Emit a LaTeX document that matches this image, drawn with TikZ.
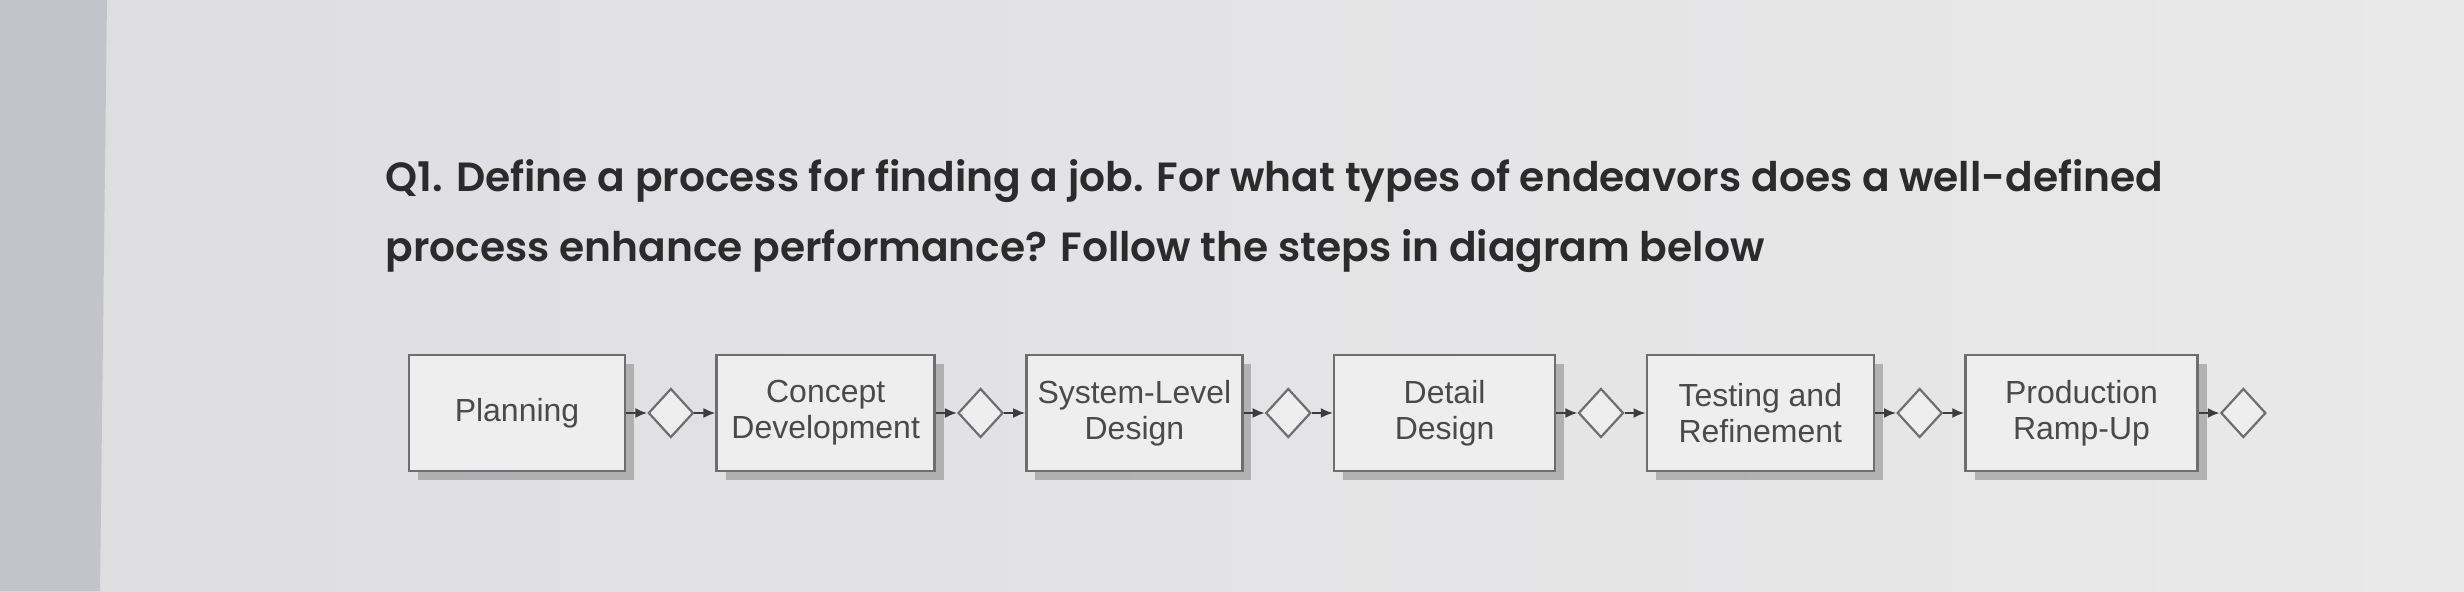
\documentclass[tikz,border=0pt]{standalone}
\usepackage{fontspec}
\setmainfont{Liberation Sans}
\newfontfamily\qfont{Poppins SemiBold}
\usetikzlibrary{positioning,shapes.geometric,arrows.meta,shadows}

\definecolor{bezel}{HTML}{C3C4C9}
\definecolor{screenleft}{HTML}{DEDDE1}
\definecolor{screenright}{HTML}{E9E9E9}
\definecolor{qtext}{HTML}{2B2B2B}
\definecolor{stagefill}{HTML}{EEEEEF}
\definecolor{stageline}{HTML}{6E6E6E}
\definecolor{stagetext}{HTML}{4A4A4A}
\definecolor{shadowgray}{HTML}{9C9C9C}
\definecolor{flowline}{HTML}{3C3C3C}
\tikzset{
	stage/.style = {rectangle, draw=stageline, line width=0.25mm, fill=stagefill,
	 text=stagetext, minimum height=11.6mm, inner sep=0, align=center,
	 font=\fontsize{9.1pt}{10.3pt}\selectfont,
	 drop shadow={shadow xshift=0.9mm, shadow yshift=-0.9mm, fill=shadowgray, opacity=0.7}}}
\tikzset{
	gate/.style = {diamond, draw=stageline, line width=0.22mm, fill=stagefill,
	 inner sep=0, minimum width=4.5mm, minimum height=4.9mm}}
\tikzset{
	flow/.style = {-{Latex[length=1.2mm,width=1mm]}, line width=0.2mm, draw=flowline}}

\begin{document}
\begin{tikzpicture}[x=0.1mm, y=0.1mm, node distance=2.1mm]

% SCREEN
\useasboundingbox (0,0) rectangle (2464,591);
\shade [left color=screenleft, right color=screenright] (0,0) rectangle (2464,591);
\fill [bezel] (0,0) -- (100,0) -- (107,591) -- (0,591) -- cycle;

% QUESTION
\node (qline1) [anchor=base west, inner sep=0, text=qtext, font=\qfont\fontsize{11.6pt}{15pt}\selectfont] at (385,399)
 {Q1. Define a process for finding a job. For what types of endeavors does a well-defined};
\node (qline2) [anchor=base west, inner sep=0, text=qtext, font=\qfont\fontsize{11.6pt}{15pt}\selectfont] at (385,329)
 {process enhance performance? Follow the steps in diagram below};

% NODES
\node (plan) [stage, minimum width=21.6mm] at (517,178) {Planning};
\node (g1) [gate, right=of plan] {};
\node (concept) [stage, minimum width=21.8mm, right=of g1] {Concept\\Development};
\node (g2) [gate, right=of concept] {};
\node (system) [stage, minimum width=21.6mm, right=of g2] {System-Level\\Design};
\node (g3) [gate, right=of system] {};
\node (detail) [stage, minimum width=22.1mm, right=of g3] {Detail\\Design};
\node (g4) [gate, right=of detail] {};
\node (testing) [stage, minimum width=22.7mm, right=of g4] {Testing and\\Refinement};
\node (g5) [gate, right=of testing] {};
\node (ramp) [stage, minimum width=23.2mm, right=of g5] {Production\\Ramp-Up};
\node (g6) [gate, right=of ramp] {};

%CONNECTIONS
\draw [flow] (plan) -- (g1);
\draw [flow] (g1) -- (concept);
\draw [flow] (concept) -- (g2);
\draw [flow] (g2) -- (system);
\draw [flow] (system) -- (g3);
\draw [flow] (g3) -- (detail);
\draw [flow] (detail) -- (g4);
\draw [flow] (g4) -- (testing);
\draw [flow] (testing) -- (g5);
\draw [flow] (g5) -- (ramp);
\draw [flow] (ramp) -- (g6);

\end{tikzpicture}
\end{document}
